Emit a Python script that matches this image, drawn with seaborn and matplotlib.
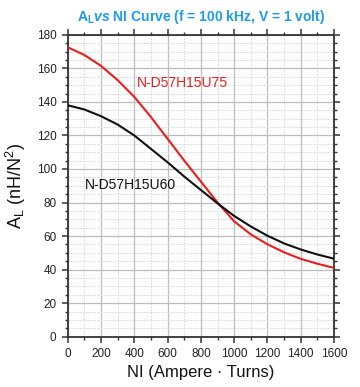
import matplotlib
matplotlib.use("Agg")
import matplotlib.pyplot as plt
from matplotlib.ticker import MultipleLocator
import seaborn as sns
import pandas as pd

ni = [0, 100, 200, 300, 400, 500, 600, 700, 800, 900, 1000, 1100, 1200, 1300, 1400, 1500, 1600]
al_u75 = [172.6, 168, 161.5, 153, 143, 131, 118, 105, 92.5, 80, 68.8, 61, 55.1, 50.3, 46.4, 43.5, 41]
al_u60 = [138, 135.5, 131.5, 126.5, 120, 112, 104, 95.5, 87.5, 79.5, 72, 65.7, 60.2, 55.6, 52, 49, 46.5]
series_names = ["N-D57H15U75", "N-D57H15U60"]
series_colors = ["#ee1c1c", "#111111"]

sns.set_style("ticks")
plt.rcParams['font.family'] = ['Liberation Sans', 'DejaVu Sans']
plt.rcParams['mathtext.fontset'] = 'custom'
plt.rcParams['mathtext.rm'] = 'Liberation Sans'
plt.rcParams['mathtext.it'] = 'Liberation Sans:italic'
plt.rcParams['mathtext.bf'] = 'Liberation Sans:bold'
plt.rcParams['mathtext.bfit'] = 'Liberation Sans:italic:bold'

df = pd.DataFrame({
    "NI": ni * 2,
    "AL": al_u75 + al_u60,
    "series": [series_names[0]] * len(ni) + [series_names[1]] * len(ni),
})

fig = plt.figure(figsize=(3.6, 3.87), dpi=100)
ax = fig.add_axes([0.188, 0.130, 0.740, 0.780])
sns.lineplot(data=df, x="NI", y="AL", hue="series", palette=series_colors,
             hue_order=series_names, linewidth=1.5, legend=False, ax=ax, zorder=3)
for ln in ax.get_lines():
    ln.set_solid_joinstyle("round")

ax.set_xlim(0, 1600)
ax.set_ylim(0, 180)
ax.xaxis.set_major_locator(MultipleLocator(200))
ax.xaxis.set_minor_locator(MultipleLocator(100))
ax.yaxis.set_major_locator(MultipleLocator(20))
ax.yaxis.set_minor_locator(MultipleLocator(5))

ax.grid(which="major", color="#bdbdbd", linewidth=0.9, linestyle="-")
ax.grid(which="minor", color="#d6d6d6", linewidth=0.7, linestyle=(0, (1.5, 1.5)))
ax.set_axisbelow(True)

for s in ax.spines.values():
    s.set_visible(True)
    s.set_color("#333333")
    s.set_linewidth(1.3)

ax.tick_params(which="both", direction="out", top=True, right=True,
               color="#333333", labelsize=8.5, labelcolor="#222222")
ax.tick_params(which="major", length=4.5, width=1.1)
ax.tick_params(which="minor", length=2.5, width=1.0)

ax.set_xlabel("NI (Ampere \u00b7 Turns)", fontsize=12, color="#111111", labelpad=4)
ax.set_ylabel(r"A$_\mathregular{L}$ (nH/N$^\mathregular{2}$)", fontsize=13, color="#111111", labelpad=6)
ax.set_title(r"$\mathbf{A_L}\mathbfit{vs}$ NI Curve (f = 100 kHz, V = 1 volt)",
             fontsize=10, fontweight="bold", color="#1e9bf0", pad=10)

ax.text(413, 151, series_names[0], color=series_colors[0], fontsize=10, va="center", ha="left")
ax.text(104, 90.5, series_names[1], color=series_colors[1], fontsize=10, va="center", ha="left")

fig.savefig("out.png", dpi=100)
